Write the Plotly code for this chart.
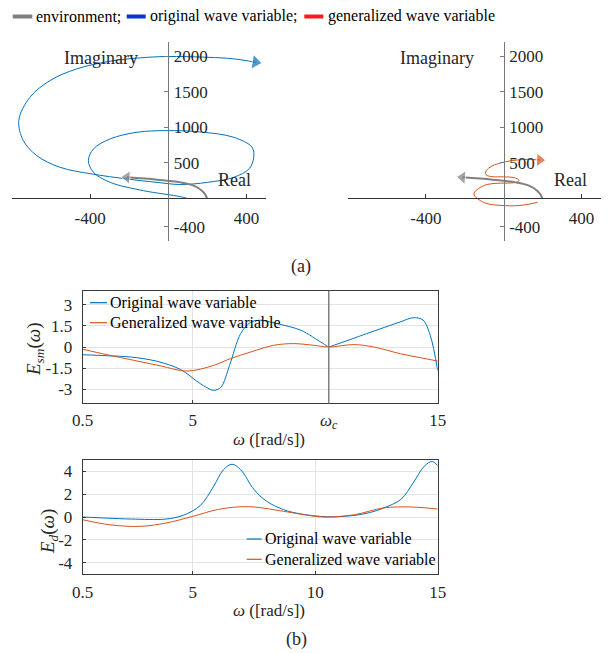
import plotly.graph_objects as go

# ---------------- data ----------------
# (a) loci in the complex plane
env_re = [198, 190, 172, 130, 62, -58, -212]
env_im = [0, 50, 108, 179, 225, 263, 296]

orig_re = [95, 62, -127, -297, -383, -409, -383, -297, -160, -7, 160, 335, 429, 437, 415, 335, 200, 62,
           -58, -212, -391, -554, -673, -742, -765, -708, -605, -468, -297, -144, -7, 200, 335, 446]
orig_im = [0, 24, 108, 225, 366, 531, 696, 837, 930, 953, 935, 859, 718, 577, 420, 296, 225, 195,
           225, 273, 343, 437, 601, 813, 1100, 1423, 1658, 1822, 1930, 1977, 1996, 1985, 1963, 1915]

gen_re = [174, 100, 10, -100, -153, -110, -50, 20, 70, 79, 55, 0, -60, -90, -93, -70, -20, 40, 110, 185]
gen_im = [-56, -95, -103, -60, 62, 170, 210, 215, 230, 255, 290, 303, 305, 330, 370, 440, 495, 530, 548, 540]

re_ticks = [-400, 400]
im_ticks = [-400, 500, 1000, 1500, 2000]

# (b) errors vs frequency
omega_c = 10.55
esm_w_orig = [0.5, 1.5, 2.5, 3.5, 4.5, 5.3, 5.85, 6.15, 6.5, 6.95, 7.35, 7.75, 8.4, 9.4, 10.3, 10.55,
              10.8, 12.1, 13.5, 14.0, 14.4, 14.7, 15.0]
esm_orig = [-0.55, -0.62, -0.72, -1.0, -1.6, -2.6, -3.08, -2.85, -1.3, 0.95, 1.75, 1.9, 1.67, 1.2,
            0.27, 0.02, 0.15, 0.95, 1.8, 2.08, 1.92, 0.8, -1.66]
esm_w_gen = [0.5, 1.5, 2.6, 3.7, 4.76, 5.84, 6.53, 7.35, 8.3, 9.12, 9.94, 10.55, 11.57, 12.39, 13.48, 14.3, 15.0]
esm_gen = [-0.16, -0.55, -0.95, -1.35, -1.71, -1.31, -0.83, -0.36, 0.12, 0.24, 0.12, 0.0, 0.17, 0.0,
           -0.48, -0.76, -1.0]
esm_ticks = [-3, -1.5, 0, 1.5, 3]
esm_ticktext = ["-3", "-1.5", "0", "1.5", "3"]

ed_w_orig = [0.5, 1.5, 2.5, 3.9, 4.6, 5.3, 5.85, 6.25, 6.6, 6.95, 7.5, 8.0, 8.7, 9.4, 10.5, 11.5,
             12.25, 12.8, 13.5, 14.0, 14.45, 14.78, 15.0]
ed_orig = [0.0, -0.1, -0.18, -0.18, 0.15, 1.0, 2.7, 4.15, 4.63, 4.15, 2.4, 1.4, 0.65, 0.27, 0.02, 0.12,
           0.4, 0.8, 1.55, 3.0, 4.45, 4.87, 4.5]
ed_w_gen = [0.5, 1.6, 2.85, 3.9, 5.0, 6.0, 6.8, 7.5, 8.7, 10.0, 10.55, 11.6, 12.8, 13.9, 15.0]
ed_gen = [-0.24, -0.68, -0.82, -0.53, 0.06, 0.65, 0.88, 0.88, 0.5, 0.06, 0.0, 0.2, 0.8, 0.88, 0.7]
ed_ticks = [-4, -2, 0, 2, 4]
ed_ticktext = ["-4", "-2", "0", "2", "4"]

w_ticks_sm = [0.5, 5, omega_c, 15]
w_ticktext_sm = ["0.5", "5", "<i>ω<sub>c</sub></i>", "15"]
w_ticks_d = [0.5, 5, 10, 15]
w_ticktext_d = ["0.5", "5", "10", "15"]

# ---------------- styling ----------------
OFF = 8                      # page body margin around the plot div
W, H = 613 - OFF, 653 - OFF  # figure size so the page fits the window
FONT = "Liberation Serif, Times New Roman, serif"
BLUE = "#0072BD"
ORANGE = "#D95319"
GRAY = "#808080"
TXT = "#262626"


def px(x):
    """window pixel x -> paper fraction"""
    return (x - OFF) / W


def py(y):
    """window pixel y -> paper fraction"""
    return 1 - (y - OFF) / H


def arrow_sizes(n, s):
    return [0] * (n - 1) + [s]


fig = go.Figure()

RE_RANGE = [-800, 500]
IM_RANGE = [-600, 2200]


def locus(x, y, xa, ya, color, width, head, smoothing=1.0):
    return go.Scatter(x=x, y=y, xaxis=xa, yaxis=ya, mode="lines+markers",
                      line=dict(color=color, width=width, shape="spline", smoothing=smoothing),
                      marker=dict(size=arrow_sizes(len(x), head), symbol="triangle-up",
                                  angleref="previous", color=color),
                      showlegend=False, hoverinfo="skip")


fig.add_trace(locus(orig_re, orig_im, "x", "y", BLUE, 1, 13))
fig.add_trace(locus(env_re, env_im, "x", "y", GRAY, 2, 12))
fig.add_trace(locus(gen_re, gen_im, "x2", "y2", ORANGE, 1, 12))
fig.add_trace(locus(env_re, env_im, "x2", "y2", GRAY, 2, 12))

# middle: E_sm
fig.add_trace(go.Scatter(x=esm_w_orig, y=esm_orig, xaxis="x3", yaxis="y3", mode="lines",
                         line=dict(color=BLUE, width=1, shape="spline", smoothing=0.9),
                         showlegend=False, hoverinfo="skip"))
fig.add_trace(go.Scatter(x=esm_w_gen, y=esm_gen, xaxis="x3", yaxis="y3", mode="lines",
                         line=dict(color=ORANGE, width=1, shape="spline", smoothing=1.0),
                         showlegend=False, hoverinfo="skip"))
# bottom: E_d
fig.add_trace(go.Scatter(x=ed_w_orig, y=ed_orig, xaxis="x4", yaxis="y4", mode="lines",
                         line=dict(color=BLUE, width=1, shape="spline", smoothing=1.0),
                         showlegend=False, hoverinfo="skip"))
fig.add_trace(go.Scatter(x=ed_w_gen, y=ed_gen, xaxis="x4", yaxis="y4", mode="lines",
                         line=dict(color=ORANGE, width=1, shape="spline", smoothing=1.0),
                         showlegend=False, hoverinfo="skip"))

# domains (window pixels -> paper)
TL_X = [px(12), px(266)]
TR_X = [px(348), px(601)]
TOP_Y = [py(241), py(42)]
B_X = [px(82.7), px(437.7)]
MID_Y = [py(403.3), py(290.7)]
BOT_Y = [py(574), py(460)]


def cross_pos(dom, rng, v=0):
    return dom[0] + (v - rng[0]) / (rng[1] - rng[0]) * (dom[1] - dom[0])


tickfont = dict(family=FONT, size=17, color=TXT)


def top_axes(xdom):
    xa = dict(domain=xdom, range=RE_RANGE, anchor="free", position=cross_pos(TOP_Y, IM_RANGE),
              showgrid=False, zeroline=False, showline=True, linecolor="#333333", linewidth=1,
              tickmode="array", tickvals=re_ticks, ticktext=[str(v) for v in re_ticks],
              ticks="inside", ticklen=4, tickcolor="#333333", tickfont=tickfont,
              ticklabelstandoff=4, fixedrange=True, automargin=False)
    ya = dict(domain=TOP_Y, range=IM_RANGE, anchor="free", position=cross_pos(xdom, RE_RANGE),
              side="right", showgrid=False, zeroline=False, showline=True, linecolor="#777777",
              linewidth=1.2, tickmode="array", tickvals=im_ticks, ticktext=[str(v) for v in im_ticks],
              ticks="inside", ticklen=4, tickcolor="#777777", tickfont=tickfont,
              ticklabelstandoff=1, fixedrange=True, automargin=False)
    return xa, ya


xa1, ya1 = top_axes(TL_X)
xa2, ya2 = top_axes(TR_X)

box = dict(showline=True, linecolor="#3a3a3a", linewidth=1, mirror=True, ticks="inside",
           ticklen=3, tickcolor="#3a3a3a", tickfont=tickfont, showgrid=True,
           gridcolor="#e3e3e3", gridwidth=1, zeroline=False, fixedrange=True, automargin=False)

fig.update_layout(
    width=W, height=H, margin=dict(l=0, r=0, t=0, b=0, autoexpand=False),
    paper_bgcolor="white", plot_bgcolor="rgba(0,0,0,0)",
    font=dict(family=FONT, color=TXT),
    xaxis=xa1, yaxis=ya1, xaxis2=xa2, yaxis2=ya2,
    xaxis3=dict(domain=B_X, anchor="y3", range=[0.5, 15], tickmode="array", tickvals=w_ticks_sm,
                ticktext=w_ticktext_sm, ticklabelstandoff=1, **box),
    yaxis3=dict(domain=MID_Y, anchor="x3", range=[-4, 4], tickmode="array", tickvals=esm_ticks,
                ticktext=esm_ticktext, ticklabelstandoff=6, **box),
    xaxis4=dict(domain=B_X, anchor="y4", range=[0.5, 15], tickmode="array", tickvals=w_ticks_d,
                ticktext=w_ticktext_d, ticklabelstandoff=3, **box),
    yaxis4=dict(domain=BOT_Y, anchor="x4", range=[-5, 5], tickmode="array", tickvals=ed_ticks,
                ticktext=ed_ticktext, ticklabelstandoff=6, **box),
)

# omega_c marker line
fig.add_shape(type="line", xref="x3", yref="y3 domain", x0=omega_c, x1=omega_c, y0=0, y1=1,
              line=dict(color="#808080", width=1.5))

annots = []
shapes = []


def label(text, x, y, size, angle=0, anchor="center", color=TXT):
    annots.append(dict(text=text, x=px(x), y=py(y), xref="paper", yref="paper",
                       xanchor=anchor, yanchor="middle", showarrow=False, textangle=angle,
                       font=dict(family=FONT, size=size, color=color)))


# top legend
top_leg = [("environment;", GRAY, 12.7, 32.3, 33.5),
           ("original wave variable;", "#0a35cc", 126.7, 145.7, 148),
           ("generalized wave variable", "#ff1a1a", 304.3, 323.3, 325.5)]
for txt, col, x0, x1, xt in top_leg:
    shapes.append(dict(type="rect", xref="paper", yref="paper", x0=px(x0), x1=px(x1),
                       y0=py(18.5), y1=py(14.5), fillcolor=col, line=dict(width=0)))
    label(txt, xt, 16.5, 16, anchor="left", color="black")

# Imaginary / Real labels
for xc in (100.8, 436.7):
    label("Imaginary", xc, 58, 18)
for xc in (234.5, 570):
    label("Real", xc, 180, 18)

label("(a)", 300.8, 266, 18)
label("(b)", 296, 639, 18)

# axis titles of (b)
label("<i>ω</i> ([rad/s])", 269, 439, 17)
label("<i>ω</i> ([rad/s])", 269, 610, 17)
label("<i>E<sub>sm</sub></i>(<i>ω</i>)", 35, 350, 19, angle=-90)
label("<i>E<sub>d</sub></i>(<i>ω</i>)", 49, 531, 19, angle=-90)

# panel legends
panel_leg = [
    ("Original wave variable", BLUE, 90, 107, 108, 302.7),
    ("Generalized wave variable", ORANGE, 90, 107, 108, 322.7),
    ("Original wave variable", BLUE, 246.7, 261.7, 262.5, 539),
    ("Generalized wave variable", ORANGE, 246.7, 261.7, 262.5, 559.3),
]
for txt, col, x0, x1, xt, yc in panel_leg:
    shapes.append(dict(type="line", xref="paper", yref="paper", x0=px(x0), x1=px(x1),
                       y0=py(yc), y1=py(yc), line=dict(color=col, width=1.2)))
    label(txt, xt, yc, 16, anchor="left", color="black")

fig.update_layout(annotations=annots)
for s in shapes:
    fig.add_shape(**s)

fig.write_html("out.html")
